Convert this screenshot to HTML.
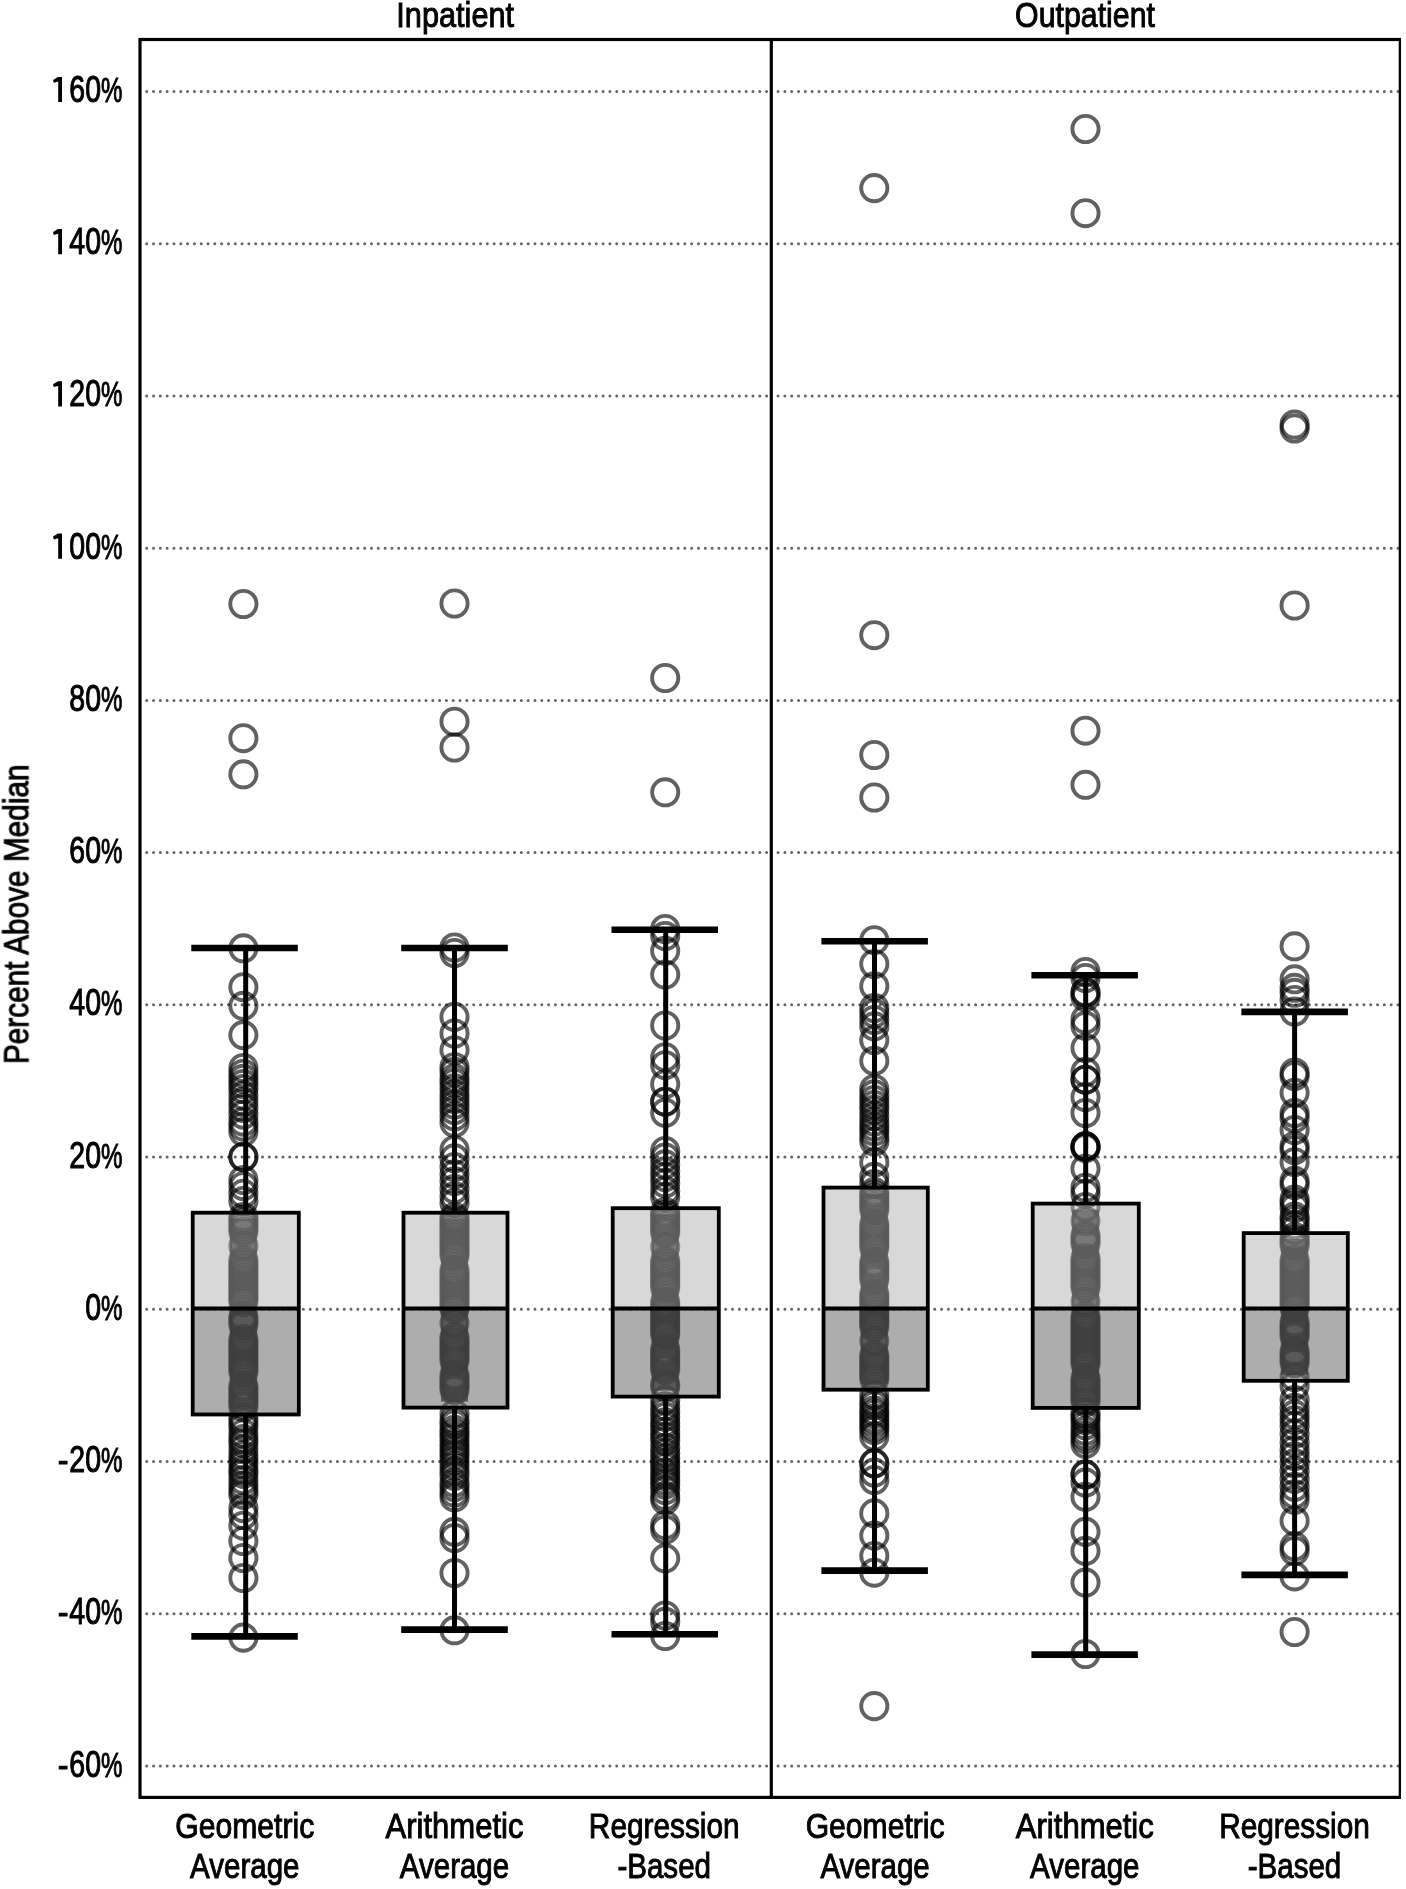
<!DOCTYPE html>
<html><head><meta charset="utf-8"><title>Boxplot</title>
<style>html,body{margin:0;padding:0;background:#fff;} svg{display:block;}</style></head>
<body><svg width="1406" height="1889" viewBox="0 0 1406 1889">
<defs><filter id="b" x="0" y="0" width="1" height="1"><feGaussianBlur stdDeviation="0.6"/></filter></defs>
<rect width="1406" height="1889" fill="#fff"/>
<g filter="url(#b)">
<g stroke="#656565" stroke-width="3.0" stroke-linecap="round" stroke-dasharray="0 6.812" fill="none"><line x1="146.7" y1="91.5" x2="766.6" y2="91.5" /><line x1="778.07" y1="91.5" x2="1398.1" y2="91.5" /><line x1="146.7" y1="243.7" x2="766.6" y2="243.7" /><line x1="778.07" y1="243.7" x2="1398.1" y2="243.7" /><line x1="146.7" y1="395.9" x2="766.6" y2="395.9" /><line x1="778.07" y1="395.9" x2="1398.1" y2="395.9" /><line x1="146.7" y1="548.2" x2="766.6" y2="548.2" /><line x1="778.07" y1="548.2" x2="1398.1" y2="548.2" /><line x1="146.7" y1="700.4" x2="766.6" y2="700.4" /><line x1="778.07" y1="700.4" x2="1398.1" y2="700.4" /><line x1="146.7" y1="852.6" x2="766.6" y2="852.6" /><line x1="778.07" y1="852.6" x2="1398.1" y2="852.6" /><line x1="146.7" y1="1004.8" x2="766.6" y2="1004.8" /><line x1="778.07" y1="1004.8" x2="1398.1" y2="1004.8" /><line x1="146.7" y1="1157.1" x2="766.6" y2="1157.1" /><line x1="778.07" y1="1157.1" x2="1398.1" y2="1157.1" /><line x1="146.7" y1="1309.3" x2="766.6" y2="1309.3" /><line x1="778.07" y1="1309.3" x2="1398.1" y2="1309.3" /><line x1="146.7" y1="1461.5" x2="766.6" y2="1461.5" /><line x1="778.07" y1="1461.5" x2="1398.1" y2="1461.5" /><line x1="146.7" y1="1613.8" x2="766.6" y2="1613.8" /><line x1="778.07" y1="1613.8" x2="1398.1" y2="1613.8" /><line x1="146.7" y1="1766.0" x2="766.6" y2="1766.0" /><line x1="778.07" y1="1766.0" x2="1398.1" y2="1766.0" /></g>
<rect x="229.9" y="1218.7" width="27" height="189.8" fill="#000" fill-opacity="0.75"/><g fill="none" stroke="#000" stroke-opacity="0.62" stroke-width="3.9"><circle cx="243.4" cy="604.0" r="13.1"/><circle cx="243.4" cy="738.2" r="13.1"/><circle cx="243.4" cy="774.3" r="13.1"/><circle cx="243.4" cy="948.3" r="13.1"/><circle cx="243.4" cy="987.2" r="13.1"/><circle cx="243.4" cy="1005.8" r="13.1"/><circle cx="243.4" cy="1035.1" r="13.1"/><circle cx="243.4" cy="1525.7" r="13.1"/><circle cx="243.4" cy="1541.0" r="13.1"/><circle cx="243.4" cy="1558.0" r="13.1"/><circle cx="243.4" cy="1578.0" r="13.1"/><circle cx="243.4" cy="1637.6" r="13.1"/><circle cx="243.4" cy="1157.0" r="13.1"/><circle cx="243.4" cy="1157.0" r="13.1"/><circle cx="243.4" cy="1068.0" r="13.1"/><circle cx="243.4" cy="1073.7" r="13.1"/><circle cx="243.4" cy="1078.8" r="13.1"/><circle cx="243.4" cy="1084.0" r="13.1"/><circle cx="243.4" cy="1089.0" r="13.1"/><circle cx="243.4" cy="1095.5" r="13.1"/><circle cx="243.4" cy="1101.9" r="13.1"/><circle cx="243.4" cy="1107.9" r="13.1"/><circle cx="243.4" cy="1114.7" r="13.1"/><circle cx="243.4" cy="1121.7" r="13.1"/><circle cx="243.4" cy="1126.6" r="13.1"/><circle cx="243.4" cy="1131.8" r="13.1"/><circle cx="243.4" cy="1180.0" r="13.1"/><circle cx="243.4" cy="1186.2" r="13.1"/><circle cx="243.4" cy="1193.7" r="13.1"/><circle cx="243.4" cy="1201.0" r="13.1"/><circle cx="243.4" cy="1418.0" r="13.1"/><circle cx="243.4" cy="1422.5" r="13.1"/><circle cx="243.4" cy="1427.1" r="13.1"/><circle cx="243.4" cy="1433.5" r="13.1"/><circle cx="243.4" cy="1439.0" r="13.1"/><circle cx="243.4" cy="1443.1" r="13.1"/><circle cx="243.4" cy="1449.2" r="13.1"/><circle cx="243.4" cy="1455.2" r="13.1"/><circle cx="243.4" cy="1460.1" r="13.1"/><circle cx="243.4" cy="1464.6" r="13.1"/><circle cx="243.4" cy="1470.1" r="13.1"/><circle cx="243.4" cy="1473.9" r="13.1"/><circle cx="243.4" cy="1480.0" r="13.1"/><circle cx="243.4" cy="1485.5" r="13.1"/><circle cx="243.4" cy="1490.4" r="13.1"/><circle cx="243.4" cy="1494.9" r="13.1"/><circle cx="243.4" cy="1508.0" r="13.1"/><circle cx="243.4" cy="1515.0" r="13.1"/><circle cx="243.4" cy="1217.0" r="13.1"/><circle cx="243.4" cy="1220.0" r="13.1"/><circle cx="243.4" cy="1223.0" r="13.1"/><circle cx="243.4" cy="1226.0" r="13.1"/><circle cx="243.4" cy="1229.0" r="13.1"/><circle cx="243.4" cy="1232.0" r="13.1"/><circle cx="243.4" cy="1246.0" r="13.1"/><circle cx="243.4" cy="1260.0" r="13.1"/><circle cx="243.4" cy="1263.0" r="13.1"/><circle cx="243.4" cy="1266.0" r="13.1"/><circle cx="243.4" cy="1269.0" r="13.1"/><circle cx="243.4" cy="1272.0" r="13.1"/><circle cx="243.4" cy="1275.0" r="13.1"/><circle cx="243.4" cy="1278.0" r="13.1"/><circle cx="243.4" cy="1281.0" r="13.1"/><circle cx="243.4" cy="1284.0" r="13.1"/><circle cx="243.4" cy="1287.0" r="13.1"/><circle cx="243.4" cy="1290.0" r="13.1"/><circle cx="243.4" cy="1293.0" r="13.1"/><circle cx="243.4" cy="1296.0" r="13.1"/><circle cx="243.4" cy="1299.0" r="13.1"/><circle cx="243.4" cy="1302.0" r="13.1"/><circle cx="243.4" cy="1316.0" r="13.1"/><circle cx="243.4" cy="1319.0" r="13.1"/><circle cx="243.4" cy="1322.0" r="13.1"/><circle cx="243.4" cy="1325.0" r="13.1"/><circle cx="243.4" cy="1339.0" r="13.1"/><circle cx="243.4" cy="1342.0" r="13.1"/><circle cx="243.4" cy="1345.0" r="13.1"/><circle cx="243.4" cy="1348.0" r="13.1"/><circle cx="243.4" cy="1351.0" r="13.1"/><circle cx="243.4" cy="1354.0" r="13.1"/><circle cx="243.4" cy="1357.0" r="13.1"/><circle cx="243.4" cy="1360.0" r="13.1"/><circle cx="243.4" cy="1363.0" r="13.1"/><circle cx="243.4" cy="1366.0" r="13.1"/><circle cx="243.4" cy="1369.0" r="13.1"/><circle cx="243.4" cy="1372.0" r="13.1"/><circle cx="243.4" cy="1386.0" r="13.1"/><circle cx="243.4" cy="1389.0" r="13.1"/><circle cx="243.4" cy="1392.0" r="13.1"/><circle cx="243.4" cy="1395.0" r="13.1"/><circle cx="243.4" cy="1398.0" r="13.1"/><circle cx="243.4" cy="1401.0" r="13.1"/><circle cx="243.4" cy="1404.0" r="13.1"/><circle cx="243.4" cy="1407.0" r="13.1"/></g><rect x="192.7" y="1212.7" width="106.1" height="95.8" fill="#b1b1b1" fill-opacity="0.5"/><rect x="192.7" y="1308.5" width="106.1" height="106.0" fill="#6c6c6c" fill-opacity="0.56"/><g stroke="#000" stroke-width="5"><line x1="245.7" y1="948.0" x2="245.7" y2="1212.7"/><line x1="245.7" y1="1414.5" x2="245.7" y2="1636.4"/></g><g stroke="#000" stroke-width="6.6"><line x1="191.3" y1="948.0" x2="297.8" y2="948.0"/><line x1="191.3" y1="1636.4" x2="297.8" y2="1636.4"/></g><rect x="192.7" y="1212.7" width="106.1" height="201.8" fill="none" stroke="#000" stroke-width="3.8"/><line x1="192.7" y1="1308.5" x2="298.8" y2="1308.5" stroke="#000" stroke-width="4.2"/>
<rect x="441.0" y="1218.7" width="27" height="182.9" fill="#000" fill-opacity="0.75"/><g fill="none" stroke="#000" stroke-opacity="0.62" stroke-width="3.9"><circle cx="454.5" cy="603.5" r="13.1"/><circle cx="454.5" cy="721.7" r="13.1"/><circle cx="454.5" cy="747.5" r="13.1"/><circle cx="454.5" cy="947.5" r="13.1"/><circle cx="454.5" cy="953.0" r="13.1"/><circle cx="454.5" cy="1016.9" r="13.1"/><circle cx="454.5" cy="1033.5" r="13.1"/><circle cx="454.5" cy="1050.2" r="13.1"/><circle cx="454.5" cy="1531.8" r="13.1"/><circle cx="454.5" cy="1538.0" r="13.1"/><circle cx="454.5" cy="1573.0" r="13.1"/><circle cx="454.5" cy="1630.3" r="13.1"/><circle cx="454.5" cy="1067.0" r="13.1"/><circle cx="454.5" cy="1071.9" r="13.1"/><circle cx="454.5" cy="1078.3" r="13.1"/><circle cx="454.5" cy="1082.9" r="13.1"/><circle cx="454.5" cy="1088.3" r="13.1"/><circle cx="454.5" cy="1094.2" r="13.1"/><circle cx="454.5" cy="1099.2" r="13.1"/><circle cx="454.5" cy="1104.7" r="13.1"/><circle cx="454.5" cy="1110.1" r="13.1"/><circle cx="454.5" cy="1116.4" r="13.1"/><circle cx="454.5" cy="1122.8" r="13.1"/><circle cx="454.5" cy="1150.0" r="13.1"/><circle cx="454.5" cy="1158.4" r="13.1"/><circle cx="454.5" cy="1167.0" r="13.1"/><circle cx="454.5" cy="1174.3" r="13.1"/><circle cx="454.5" cy="1181.2" r="13.1"/><circle cx="454.5" cy="1189.0" r="13.1"/><circle cx="454.5" cy="1196.4" r="13.1"/><circle cx="454.5" cy="1203.1" r="13.1"/><circle cx="454.5" cy="1414.0" r="13.1"/><circle cx="454.5" cy="1420.4" r="13.1"/><circle cx="454.5" cy="1424.4" r="13.1"/><circle cx="454.5" cy="1429.9" r="13.1"/><circle cx="454.5" cy="1433.9" r="13.1"/><circle cx="454.5" cy="1437.9" r="13.1"/><circle cx="454.5" cy="1442.9" r="13.1"/><circle cx="454.5" cy="1447.2" r="13.1"/><circle cx="454.5" cy="1451.4" r="13.1"/><circle cx="454.5" cy="1455.3" r="13.1"/><circle cx="454.5" cy="1460.4" r="13.1"/><circle cx="454.5" cy="1465.5" r="13.1"/><circle cx="454.5" cy="1471.1" r="13.1"/><circle cx="454.5" cy="1475.8" r="13.1"/><circle cx="454.5" cy="1482.7" r="13.1"/><circle cx="454.5" cy="1487.2" r="13.1"/><circle cx="454.5" cy="1492.7" r="13.1"/><circle cx="454.5" cy="1497.4" r="13.1"/><circle cx="454.5" cy="1217.0" r="13.1"/><circle cx="454.5" cy="1220.0" r="13.1"/><circle cx="454.5" cy="1223.0" r="13.1"/><circle cx="454.5" cy="1226.0" r="13.1"/><circle cx="454.5" cy="1229.0" r="13.1"/><circle cx="454.5" cy="1232.0" r="13.1"/><circle cx="454.5" cy="1235.0" r="13.1"/><circle cx="454.5" cy="1238.0" r="13.1"/><circle cx="454.5" cy="1241.0" r="13.1"/><circle cx="454.5" cy="1244.0" r="13.1"/><circle cx="454.5" cy="1247.0" r="13.1"/><circle cx="454.5" cy="1250.0" r="13.1"/><circle cx="454.5" cy="1253.0" r="13.1"/><circle cx="454.5" cy="1256.0" r="13.1"/><circle cx="454.5" cy="1270.0" r="13.1"/><circle cx="454.5" cy="1273.0" r="13.1"/><circle cx="454.5" cy="1276.0" r="13.1"/><circle cx="454.5" cy="1279.0" r="13.1"/><circle cx="454.5" cy="1282.0" r="13.1"/><circle cx="454.5" cy="1285.0" r="13.1"/><circle cx="454.5" cy="1288.0" r="13.1"/><circle cx="454.5" cy="1291.0" r="13.1"/><circle cx="454.5" cy="1294.0" r="13.1"/><circle cx="454.5" cy="1297.0" r="13.1"/><circle cx="454.5" cy="1300.0" r="13.1"/><circle cx="454.5" cy="1303.0" r="13.1"/><circle cx="454.5" cy="1306.0" r="13.1"/><circle cx="454.5" cy="1309.0" r="13.1"/><circle cx="454.5" cy="1323.0" r="13.1"/><circle cx="454.5" cy="1337.0" r="13.1"/><circle cx="454.5" cy="1340.0" r="13.1"/><circle cx="454.5" cy="1343.0" r="13.1"/><circle cx="454.5" cy="1346.0" r="13.1"/><circle cx="454.5" cy="1349.0" r="13.1"/><circle cx="454.5" cy="1352.0" r="13.1"/><circle cx="454.5" cy="1355.0" r="13.1"/><circle cx="454.5" cy="1358.0" r="13.1"/><circle cx="454.5" cy="1361.0" r="13.1"/><circle cx="454.5" cy="1375.0" r="13.1"/><circle cx="454.5" cy="1378.0" r="13.1"/><circle cx="454.5" cy="1381.0" r="13.1"/><circle cx="454.5" cy="1384.0" r="13.1"/><circle cx="454.5" cy="1387.0" r="13.1"/><circle cx="454.5" cy="1390.0" r="13.1"/></g><rect x="403.5" y="1212.7" width="104.0" height="95.8" fill="#b1b1b1" fill-opacity="0.5"/><rect x="403.5" y="1308.5" width="104.0" height="99.1" fill="#6c6c6c" fill-opacity="0.56"/><g stroke="#000" stroke-width="5"><line x1="454.5" y1="948.0" x2="454.5" y2="1212.7"/><line x1="454.5" y1="1407.6" x2="454.5" y2="1629.6"/></g><g stroke="#000" stroke-width="6.6"><line x1="401.2" y1="948.0" x2="507.8" y2="948.0"/><line x1="401.2" y1="1629.6" x2="507.8" y2="1629.6"/></g><rect x="403.5" y="1212.7" width="104.0" height="194.9" fill="none" stroke="#000" stroke-width="3.8"/><line x1="403.5" y1="1308.5" x2="507.5" y2="1308.5" stroke="#000" stroke-width="4.2"/>
<rect x="651.7" y="1214.2" width="27" height="176.4" fill="#000" fill-opacity="0.75"/><g fill="none" stroke="#000" stroke-opacity="0.62" stroke-width="3.9"><circle cx="665.2" cy="678.0" r="13.1"/><circle cx="665.2" cy="792.3" r="13.1"/><circle cx="665.2" cy="929.0" r="13.1"/><circle cx="665.2" cy="936.0" r="13.1"/><circle cx="665.2" cy="950.8" r="13.1"/><circle cx="665.2" cy="974.6" r="13.1"/><circle cx="665.2" cy="1025.5" r="13.1"/><circle cx="665.2" cy="1057.2" r="13.1"/><circle cx="665.2" cy="1065.2" r="13.1"/><circle cx="665.2" cy="1084.2" r="13.1"/><circle cx="665.2" cy="1101.7" r="13.1"/><circle cx="665.2" cy="1101.7" r="13.1"/><circle cx="665.2" cy="1112.8" r="13.1"/><circle cx="665.2" cy="1525.0" r="13.1"/><circle cx="665.2" cy="1529.7" r="13.1"/><circle cx="665.2" cy="1558.3" r="13.1"/><circle cx="665.2" cy="1615.5" r="13.1"/><circle cx="665.2" cy="1621.9" r="13.1"/><circle cx="665.2" cy="1636.0" r="13.1"/><circle cx="665.2" cy="1151.0" r="13.1"/><circle cx="665.2" cy="1157.5" r="13.1"/><circle cx="665.2" cy="1164.4" r="13.1"/><circle cx="665.2" cy="1171.3" r="13.1"/><circle cx="665.2" cy="1177.1" r="13.1"/><circle cx="665.2" cy="1183.3" r="13.1"/><circle cx="665.2" cy="1190.8" r="13.1"/><circle cx="665.2" cy="1197.1" r="13.1"/><circle cx="665.2" cy="1400.0" r="13.1"/><circle cx="665.2" cy="1406.3" r="13.1"/><circle cx="665.2" cy="1411.8" r="13.1"/><circle cx="665.2" cy="1416.8" r="13.1"/><circle cx="665.2" cy="1422.4" r="13.1"/><circle cx="665.2" cy="1426.5" r="13.1"/><circle cx="665.2" cy="1431.9" r="13.1"/><circle cx="665.2" cy="1436.7" r="13.1"/><circle cx="665.2" cy="1441.0" r="13.1"/><circle cx="665.2" cy="1447.7" r="13.1"/><circle cx="665.2" cy="1453.0" r="13.1"/><circle cx="665.2" cy="1458.1" r="13.1"/><circle cx="665.2" cy="1462.9" r="13.1"/><circle cx="665.2" cy="1467.1" r="13.1"/><circle cx="665.2" cy="1472.2" r="13.1"/><circle cx="665.2" cy="1476.2" r="13.1"/><circle cx="665.2" cy="1480.6" r="13.1"/><circle cx="665.2" cy="1484.7" r="13.1"/><circle cx="665.2" cy="1490.0" r="13.1"/><circle cx="665.2" cy="1496.2" r="13.1"/><circle cx="665.2" cy="1500.0" r="13.1"/><circle cx="665.2" cy="1212.0" r="13.1"/><circle cx="665.2" cy="1215.0" r="13.1"/><circle cx="665.2" cy="1218.0" r="13.1"/><circle cx="665.2" cy="1221.0" r="13.1"/><circle cx="665.2" cy="1224.0" r="13.1"/><circle cx="665.2" cy="1227.0" r="13.1"/><circle cx="665.2" cy="1230.0" r="13.1"/><circle cx="665.2" cy="1233.0" r="13.1"/><circle cx="665.2" cy="1247.0" r="13.1"/><circle cx="665.2" cy="1261.0" r="13.1"/><circle cx="665.2" cy="1264.0" r="13.1"/><circle cx="665.2" cy="1267.0" r="13.1"/><circle cx="665.2" cy="1270.0" r="13.1"/><circle cx="665.2" cy="1273.0" r="13.1"/><circle cx="665.2" cy="1276.0" r="13.1"/><circle cx="665.2" cy="1279.0" r="13.1"/><circle cx="665.2" cy="1282.0" r="13.1"/><circle cx="665.2" cy="1285.0" r="13.1"/><circle cx="665.2" cy="1288.0" r="13.1"/><circle cx="665.2" cy="1302.0" r="13.1"/><circle cx="665.2" cy="1305.0" r="13.1"/><circle cx="665.2" cy="1308.0" r="13.1"/><circle cx="665.2" cy="1311.0" r="13.1"/><circle cx="665.2" cy="1314.0" r="13.1"/><circle cx="665.2" cy="1317.0" r="13.1"/><circle cx="665.2" cy="1320.0" r="13.1"/><circle cx="665.2" cy="1323.0" r="13.1"/><circle cx="665.2" cy="1326.0" r="13.1"/><circle cx="665.2" cy="1329.0" r="13.1"/><circle cx="665.2" cy="1332.0" r="13.1"/><circle cx="665.2" cy="1335.0" r="13.1"/><circle cx="665.2" cy="1349.0" r="13.1"/><circle cx="665.2" cy="1352.0" r="13.1"/><circle cx="665.2" cy="1355.0" r="13.1"/><circle cx="665.2" cy="1358.0" r="13.1"/><circle cx="665.2" cy="1361.0" r="13.1"/><circle cx="665.2" cy="1364.0" r="13.1"/><circle cx="665.2" cy="1367.0" r="13.1"/><circle cx="665.2" cy="1370.0" r="13.1"/><circle cx="665.2" cy="1384.0" r="13.1"/><circle cx="665.2" cy="1387.0" r="13.1"/></g><rect x="612.7" y="1208.2" width="106.1" height="100.3" fill="#b1b1b1" fill-opacity="0.5"/><rect x="612.7" y="1308.5" width="106.1" height="88.1" fill="#6c6c6c" fill-opacity="0.56"/><g stroke="#000" stroke-width="5"><line x1="665.7" y1="929.7" x2="665.7" y2="1208.2"/><line x1="665.7" y1="1396.6" x2="665.7" y2="1634.3"/></g><g stroke="#000" stroke-width="6.6"><line x1="611.5" y1="929.7" x2="718.0" y2="929.7"/><line x1="611.5" y1="1634.3" x2="718.0" y2="1634.3"/></g><rect x="612.7" y="1208.2" width="106.1" height="188.4" fill="none" stroke="#000" stroke-width="3.8"/><line x1="612.7" y1="1308.5" x2="718.8" y2="1308.5" stroke="#000" stroke-width="4.2"/>
<rect x="860.8" y="1193.6" width="27" height="190.1" fill="#000" fill-opacity="0.75"/><g fill="none" stroke="#000" stroke-opacity="0.62" stroke-width="3.9"><circle cx="874.3" cy="188.1" r="13.1"/><circle cx="874.3" cy="635.2" r="13.1"/><circle cx="874.3" cy="755.0" r="13.1"/><circle cx="874.3" cy="797.5" r="13.1"/><circle cx="874.3" cy="940.2" r="13.1"/><circle cx="874.3" cy="964.0" r="13.1"/><circle cx="874.3" cy="986.2" r="13.1"/><circle cx="874.3" cy="1040.2" r="13.1"/><circle cx="874.3" cy="1060.9" r="13.1"/><circle cx="874.3" cy="1162.5" r="13.1"/><circle cx="874.3" cy="1176.8" r="13.1"/><circle cx="874.3" cy="1184.0" r="13.1"/><circle cx="874.3" cy="1472.6" r="13.1"/><circle cx="874.3" cy="1480.0" r="13.1"/><circle cx="874.3" cy="1513.4" r="13.1"/><circle cx="874.3" cy="1535.6" r="13.1"/><circle cx="874.3" cy="1556.0" r="13.1"/><circle cx="874.3" cy="1572.7" r="13.1"/><circle cx="874.3" cy="1706.1" r="13.1"/><circle cx="874.3" cy="1463.4" r="13.1"/><circle cx="874.3" cy="1463.4" r="13.1"/><circle cx="874.3" cy="1008.0" r="13.1"/><circle cx="874.3" cy="1013.4" r="13.1"/><circle cx="874.3" cy="1020.0" r="13.1"/><circle cx="874.3" cy="1026.4" r="13.1"/><circle cx="874.3" cy="1089.0" r="13.1"/><circle cx="874.3" cy="1094.4" r="13.1"/><circle cx="874.3" cy="1100.0" r="13.1"/><circle cx="874.3" cy="1105.0" r="13.1"/><circle cx="874.3" cy="1109.8" r="13.1"/><circle cx="874.3" cy="1115.8" r="13.1"/><circle cx="874.3" cy="1121.6" r="13.1"/><circle cx="874.3" cy="1126.7" r="13.1"/><circle cx="874.3" cy="1131.3" r="13.1"/><circle cx="874.3" cy="1136.5" r="13.1"/><circle cx="874.3" cy="1141.6" r="13.1"/><circle cx="874.3" cy="1395.0" r="13.1"/><circle cx="874.3" cy="1401.3" r="13.1"/><circle cx="874.3" cy="1405.3" r="13.1"/><circle cx="874.3" cy="1410.5" r="13.1"/><circle cx="874.3" cy="1414.0" r="13.1"/><circle cx="874.3" cy="1418.6" r="13.1"/><circle cx="874.3" cy="1422.3" r="13.1"/><circle cx="874.3" cy="1426.6" r="13.1"/><circle cx="874.3" cy="1430.2" r="13.1"/><circle cx="874.3" cy="1436.5" r="13.1"/><circle cx="874.3" cy="1192.0" r="13.1"/><circle cx="874.3" cy="1195.0" r="13.1"/><circle cx="874.3" cy="1198.0" r="13.1"/><circle cx="874.3" cy="1201.0" r="13.1"/><circle cx="874.3" cy="1204.0" r="13.1"/><circle cx="874.3" cy="1207.0" r="13.1"/><circle cx="874.3" cy="1210.0" r="13.1"/><circle cx="874.3" cy="1224.0" r="13.1"/><circle cx="874.3" cy="1227.0" r="13.1"/><circle cx="874.3" cy="1230.0" r="13.1"/><circle cx="874.3" cy="1233.0" r="13.1"/><circle cx="874.3" cy="1236.0" r="13.1"/><circle cx="874.3" cy="1239.0" r="13.1"/><circle cx="874.3" cy="1242.0" r="13.1"/><circle cx="874.3" cy="1245.0" r="13.1"/><circle cx="874.3" cy="1248.0" r="13.1"/><circle cx="874.3" cy="1262.0" r="13.1"/><circle cx="874.3" cy="1265.0" r="13.1"/><circle cx="874.3" cy="1268.0" r="13.1"/><circle cx="874.3" cy="1271.0" r="13.1"/><circle cx="874.3" cy="1274.0" r="13.1"/><circle cx="874.3" cy="1277.0" r="13.1"/><circle cx="874.3" cy="1280.0" r="13.1"/><circle cx="874.3" cy="1294.0" r="13.1"/><circle cx="874.3" cy="1297.0" r="13.1"/><circle cx="874.3" cy="1300.0" r="13.1"/><circle cx="874.3" cy="1303.0" r="13.1"/><circle cx="874.3" cy="1306.0" r="13.1"/><circle cx="874.3" cy="1309.0" r="13.1"/><circle cx="874.3" cy="1312.0" r="13.1"/><circle cx="874.3" cy="1315.0" r="13.1"/><circle cx="874.3" cy="1318.0" r="13.1"/><circle cx="874.3" cy="1321.0" r="13.1"/><circle cx="874.3" cy="1324.0" r="13.1"/><circle cx="874.3" cy="1327.0" r="13.1"/><circle cx="874.3" cy="1341.0" r="13.1"/><circle cx="874.3" cy="1355.0" r="13.1"/><circle cx="874.3" cy="1358.0" r="13.1"/><circle cx="874.3" cy="1361.0" r="13.1"/><circle cx="874.3" cy="1364.0" r="13.1"/><circle cx="874.3" cy="1367.0" r="13.1"/><circle cx="874.3" cy="1370.0" r="13.1"/><circle cx="874.3" cy="1373.0" r="13.1"/><circle cx="874.3" cy="1376.0" r="13.1"/><circle cx="874.3" cy="1379.0" r="13.1"/></g><rect x="823.5" y="1187.6" width="104.3" height="120.9" fill="#b1b1b1" fill-opacity="0.5"/><rect x="823.5" y="1308.5" width="104.3" height="81.2" fill="#6c6c6c" fill-opacity="0.56"/><g stroke="#000" stroke-width="5"><line x1="874.5" y1="941.3" x2="874.5" y2="1187.6"/><line x1="874.5" y1="1389.7" x2="874.5" y2="1570.6"/></g><g stroke="#000" stroke-width="6.6"><line x1="821.4" y1="941.3" x2="927.9" y2="941.3"/><line x1="821.4" y1="1570.6" x2="927.9" y2="1570.6"/></g><rect x="823.5" y="1187.6" width="104.3" height="202.1" fill="none" stroke="#000" stroke-width="3.8"/><line x1="823.5" y1="1308.5" x2="927.8" y2="1308.5" stroke="#000" stroke-width="4.2"/>
<rect x="1072.0" y="1209.6" width="27" height="192.3" fill="#000" fill-opacity="0.75"/><g fill="none" stroke="#000" stroke-opacity="0.62" stroke-width="3.9"><circle cx="1085.5" cy="129.0" r="13.1"/><circle cx="1085.5" cy="213.2" r="13.1"/><circle cx="1085.5" cy="730.7" r="13.1"/><circle cx="1085.5" cy="784.8" r="13.1"/><circle cx="1085.5" cy="972.0" r="13.1"/><circle cx="1085.5" cy="978.0" r="13.1"/><circle cx="1085.5" cy="997.0" r="13.1"/><circle cx="1085.5" cy="1019.4" r="13.1"/><circle cx="1085.5" cy="1025.8" r="13.1"/><circle cx="1085.5" cy="1048.0" r="13.1"/><circle cx="1085.5" cy="1071.8" r="13.1"/><circle cx="1085.5" cy="1097.2" r="13.1"/><circle cx="1085.5" cy="1113.0" r="13.1"/><circle cx="1085.5" cy="1148.0" r="13.1"/><circle cx="1085.5" cy="1168.7" r="13.1"/><circle cx="1085.5" cy="1187.7" r="13.1"/><circle cx="1085.5" cy="1194.0" r="13.1"/><circle cx="1085.5" cy="1482.6" r="13.1"/><circle cx="1085.5" cy="1496.9" r="13.1"/><circle cx="1085.5" cy="1531.8" r="13.1"/><circle cx="1085.5" cy="1550.9" r="13.1"/><circle cx="1085.5" cy="1582.6" r="13.1"/><circle cx="1085.5" cy="1654.0" r="13.1"/><circle cx="1085.5" cy="992.4" r="13.1"/><circle cx="1085.5" cy="992.4" r="13.1"/><circle cx="1085.5" cy="1079.7" r="13.1"/><circle cx="1085.5" cy="1079.7" r="13.1"/><circle cx="1085.5" cy="1474.6" r="13.1"/><circle cx="1085.5" cy="1474.6" r="13.1"/><circle cx="1085.5" cy="1146.4" r="13.1"/><circle cx="1085.5" cy="1146.4" r="13.1"/><circle cx="1085.5" cy="1146.4" r="13.1"/><circle cx="1085.5" cy="1413.0" r="13.1"/><circle cx="1085.5" cy="1416.6" r="13.1"/><circle cx="1085.5" cy="1420.1" r="13.1"/><circle cx="1085.5" cy="1425.4" r="13.1"/><circle cx="1085.5" cy="1430.9" r="13.1"/><circle cx="1085.5" cy="1435.3" r="13.1"/><circle cx="1085.5" cy="1439.2" r="13.1"/><circle cx="1085.5" cy="1443.9" r="13.1"/><circle cx="1085.5" cy="1207.0" r="13.1"/><circle cx="1085.5" cy="1221.0" r="13.1"/><circle cx="1085.5" cy="1235.0" r="13.1"/><circle cx="1085.5" cy="1238.0" r="13.1"/><circle cx="1085.5" cy="1241.0" r="13.1"/><circle cx="1085.5" cy="1244.0" r="13.1"/><circle cx="1085.5" cy="1258.0" r="13.1"/><circle cx="1085.5" cy="1261.0" r="13.1"/><circle cx="1085.5" cy="1264.0" r="13.1"/><circle cx="1085.5" cy="1267.0" r="13.1"/><circle cx="1085.5" cy="1270.0" r="13.1"/><circle cx="1085.5" cy="1273.0" r="13.1"/><circle cx="1085.5" cy="1276.0" r="13.1"/><circle cx="1085.5" cy="1279.0" r="13.1"/><circle cx="1085.5" cy="1282.0" r="13.1"/><circle cx="1085.5" cy="1285.0" r="13.1"/><circle cx="1085.5" cy="1288.0" r="13.1"/><circle cx="1085.5" cy="1302.0" r="13.1"/><circle cx="1085.5" cy="1316.0" r="13.1"/><circle cx="1085.5" cy="1319.0" r="13.1"/><circle cx="1085.5" cy="1322.0" r="13.1"/><circle cx="1085.5" cy="1325.0" r="13.1"/><circle cx="1085.5" cy="1328.0" r="13.1"/><circle cx="1085.5" cy="1331.0" r="13.1"/><circle cx="1085.5" cy="1334.0" r="13.1"/><circle cx="1085.5" cy="1337.0" r="13.1"/><circle cx="1085.5" cy="1340.0" r="13.1"/><circle cx="1085.5" cy="1343.0" r="13.1"/><circle cx="1085.5" cy="1346.0" r="13.1"/><circle cx="1085.5" cy="1349.0" r="13.1"/><circle cx="1085.5" cy="1352.0" r="13.1"/><circle cx="1085.5" cy="1355.0" r="13.1"/><circle cx="1085.5" cy="1358.0" r="13.1"/><circle cx="1085.5" cy="1361.0" r="13.1"/><circle cx="1085.5" cy="1364.0" r="13.1"/><circle cx="1085.5" cy="1378.0" r="13.1"/><circle cx="1085.5" cy="1381.0" r="13.1"/><circle cx="1085.5" cy="1384.0" r="13.1"/><circle cx="1085.5" cy="1387.0" r="13.1"/><circle cx="1085.5" cy="1390.0" r="13.1"/><circle cx="1085.5" cy="1393.0" r="13.1"/><circle cx="1085.5" cy="1396.0" r="13.1"/><circle cx="1085.5" cy="1399.0" r="13.1"/><circle cx="1085.5" cy="1402.0" r="13.1"/></g><rect x="1032.7" y="1203.6" width="106.1" height="104.9" fill="#b1b1b1" fill-opacity="0.5"/><rect x="1032.7" y="1308.5" width="106.1" height="99.4" fill="#6c6c6c" fill-opacity="0.56"/><g stroke="#000" stroke-width="5"><line x1="1085.7" y1="975.3" x2="1085.7" y2="1203.6"/><line x1="1085.7" y1="1407.9" x2="1085.7" y2="1654.6"/></g><g stroke="#000" stroke-width="6.6"><line x1="1031.4" y1="975.3" x2="1137.9" y2="975.3"/><line x1="1031.4" y1="1654.6" x2="1137.9" y2="1654.6"/></g><rect x="1032.7" y="1203.6" width="106.1" height="204.3" fill="none" stroke="#000" stroke-width="3.8"/><line x1="1032.7" y1="1308.5" x2="1138.8" y2="1308.5" stroke="#000" stroke-width="4.2"/>
<rect x="1281.1" y="1239.1" width="27" height="135.7" fill="#000" fill-opacity="0.75"/><g fill="none" stroke="#000" stroke-opacity="0.62" stroke-width="3.9"><circle cx="1294.6" cy="424.5" r="13.1"/><circle cx="1294.6" cy="428.5" r="13.1"/><circle cx="1294.6" cy="605.5" r="13.1"/><circle cx="1294.6" cy="946.3" r="13.1"/><circle cx="1294.6" cy="979.3" r="13.1"/><circle cx="1294.6" cy="987.8" r="13.1"/><circle cx="1294.6" cy="992.8" r="13.1"/><circle cx="1294.6" cy="1000.0" r="13.1"/><circle cx="1294.6" cy="1011.5" r="13.1"/><circle cx="1294.6" cy="1385.9" r="13.1"/><circle cx="1294.6" cy="1520.9" r="13.1"/><circle cx="1294.6" cy="1546.3" r="13.1"/><circle cx="1294.6" cy="1551.0" r="13.1"/><circle cx="1294.6" cy="1576.4" r="13.1"/><circle cx="1294.6" cy="1632.0" r="13.1"/><circle cx="1294.6" cy="1072.5" r="13.1"/><circle cx="1294.6" cy="1092.8" r="13.1"/><circle cx="1294.6" cy="1113.1" r="13.1"/><circle cx="1294.6" cy="1130.0" r="13.1"/><circle cx="1294.6" cy="1146.0" r="13.1"/><circle cx="1294.6" cy="1162.2" r="13.1"/><circle cx="1294.6" cy="1180.9" r="13.1"/><circle cx="1294.6" cy="1199.5" r="13.1"/><circle cx="1294.6" cy="1208.0" r="13.1"/><circle cx="1294.6" cy="1216.5" r="13.1"/><circle cx="1294.6" cy="1225.0" r="13.1"/><circle cx="1294.6" cy="1230.0" r="13.1"/><circle cx="1294.6" cy="1076.0" r="13.1"/><circle cx="1294.6" cy="1118.0" r="13.1"/><circle cx="1294.6" cy="1150.0" r="13.1"/><circle cx="1294.6" cy="1185.0" r="13.1"/><circle cx="1294.6" cy="1203.0" r="13.1"/><circle cx="1294.6" cy="1220.0" r="13.1"/><circle cx="1294.6" cy="1400.0" r="13.1"/><circle cx="1294.6" cy="1407.9" r="13.1"/><circle cx="1294.6" cy="1414.6" r="13.1"/><circle cx="1294.6" cy="1420.2" r="13.1"/><circle cx="1294.6" cy="1426.0" r="13.1"/><circle cx="1294.6" cy="1433.9" r="13.1"/><circle cx="1294.6" cy="1442.5" r="13.1"/><circle cx="1294.6" cy="1450.0" r="13.1"/><circle cx="1294.6" cy="1456.2" r="13.1"/><circle cx="1294.6" cy="1463.3" r="13.1"/><circle cx="1294.6" cy="1470.8" r="13.1"/><circle cx="1294.6" cy="1478.8" r="13.1"/><circle cx="1294.6" cy="1486.8" r="13.1"/><circle cx="1294.6" cy="1494.2" r="13.1"/><circle cx="1294.6" cy="1499.8" r="13.1"/><circle cx="1294.6" cy="1237.0" r="13.1"/><circle cx="1294.6" cy="1240.0" r="13.1"/><circle cx="1294.6" cy="1243.0" r="13.1"/><circle cx="1294.6" cy="1246.0" r="13.1"/><circle cx="1294.6" cy="1260.0" r="13.1"/><circle cx="1294.6" cy="1263.0" r="13.1"/><circle cx="1294.6" cy="1266.0" r="13.1"/><circle cx="1294.6" cy="1269.0" r="13.1"/><circle cx="1294.6" cy="1272.0" r="13.1"/><circle cx="1294.6" cy="1275.0" r="13.1"/><circle cx="1294.6" cy="1278.0" r="13.1"/><circle cx="1294.6" cy="1281.0" r="13.1"/><circle cx="1294.6" cy="1284.0" r="13.1"/><circle cx="1294.6" cy="1287.0" r="13.1"/><circle cx="1294.6" cy="1290.0" r="13.1"/><circle cx="1294.6" cy="1293.0" r="13.1"/><circle cx="1294.6" cy="1296.0" r="13.1"/><circle cx="1294.6" cy="1299.0" r="13.1"/><circle cx="1294.6" cy="1302.0" r="13.1"/><circle cx="1294.6" cy="1305.0" r="13.1"/><circle cx="1294.6" cy="1308.0" r="13.1"/><circle cx="1294.6" cy="1322.0" r="13.1"/><circle cx="1294.6" cy="1325.0" r="13.1"/><circle cx="1294.6" cy="1328.0" r="13.1"/><circle cx="1294.6" cy="1331.0" r="13.1"/><circle cx="1294.6" cy="1334.0" r="13.1"/><circle cx="1294.6" cy="1337.0" r="13.1"/><circle cx="1294.6" cy="1351.0" r="13.1"/><circle cx="1294.6" cy="1354.0" r="13.1"/><circle cx="1294.6" cy="1357.0" r="13.1"/><circle cx="1294.6" cy="1360.0" r="13.1"/><circle cx="1294.6" cy="1363.0" r="13.1"/><circle cx="1294.6" cy="1377.0" r="13.1"/></g><rect x="1243.7" y="1233.1" width="104.1" height="75.4" fill="#b1b1b1" fill-opacity="0.5"/><rect x="1243.7" y="1308.5" width="104.1" height="72.3" fill="#6c6c6c" fill-opacity="0.56"/><g stroke="#000" stroke-width="5"><line x1="1294.6" y1="1011.9" x2="1294.6" y2="1233.1"/><line x1="1294.6" y1="1380.8" x2="1294.6" y2="1574.9"/></g><g stroke="#000" stroke-width="6.6"><line x1="1241.4" y1="1011.9" x2="1347.9" y2="1011.9"/><line x1="1241.4" y1="1574.9" x2="1347.9" y2="1574.9"/></g><rect x="1243.7" y="1233.1" width="104.1" height="147.7" fill="none" stroke="#000" stroke-width="3.8"/><line x1="1243.7" y1="1308.5" x2="1347.8" y2="1308.5" stroke="#000" stroke-width="4.2"/>
<rect x="140" y="39.5" width="1260.3" height="1757.9" fill="none" stroke="#000" stroke-width="3.2"/>
<line x1="771.3" y1="39.5" x2="771.3" y2="1797.4" stroke="#000" stroke-width="3.2"/>
<g font-family="Liberation Sans" font-size="36" fill="#000"><text stroke="#000" stroke-width="1.0" font-size="37" transform="translate(101,102.0) scale(0.769,1)" text-anchor="end">60</text><path stroke="none" d="M58.0 76.9 L62.0 76.9 L62.0 102.0 L58.2 102.0 L58.2 81.5 L53.8 82.7 L53.0 79.9 Z"/><text stroke="#000" stroke-width="1.0" transform="translate(122.5,102.0) scale(0.67,1)" text-anchor="end">%</text><text stroke="#000" stroke-width="1.0" font-size="37" transform="translate(101,254.2) scale(0.769,1)" text-anchor="end">40</text><path stroke="none" d="M58.0 229.1 L62.0 229.1 L62.0 254.2 L58.2 254.2 L58.2 233.7 L53.8 234.9 L53.0 232.1 Z"/><text stroke="#000" stroke-width="1.0" transform="translate(122.5,254.2) scale(0.67,1)" text-anchor="end">%</text><text stroke="#000" stroke-width="1.0" font-size="37" transform="translate(101,406.4) scale(0.769,1)" text-anchor="end">20</text><path stroke="none" d="M58.0 381.3 L62.0 381.3 L62.0 406.4 L58.2 406.4 L58.2 385.9 L53.8 387.1 L53.0 384.3 Z"/><text stroke="#000" stroke-width="1.0" transform="translate(122.5,406.4) scale(0.67,1)" text-anchor="end">%</text><text stroke="#000" stroke-width="1.0" font-size="37" transform="translate(101,558.7) scale(0.769,1)" text-anchor="end">00</text><path stroke="none" d="M58.0 533.6 L62.0 533.6 L62.0 558.7 L58.2 558.7 L58.2 538.2 L53.8 539.4 L53.0 536.6 Z"/><text stroke="#000" stroke-width="1.0" transform="translate(122.5,558.7) scale(0.67,1)" text-anchor="end">%</text><text stroke="#000" stroke-width="1.0" font-size="37" transform="translate(101,710.9) scale(0.769,1)" text-anchor="end">80</text><text stroke="#000" stroke-width="1.0" transform="translate(122.5,710.9) scale(0.67,1)" text-anchor="end">%</text><text stroke="#000" stroke-width="1.0" font-size="37" transform="translate(101,863.1) scale(0.769,1)" text-anchor="end">60</text><text stroke="#000" stroke-width="1.0" transform="translate(122.5,863.1) scale(0.67,1)" text-anchor="end">%</text><text stroke="#000" stroke-width="1.0" font-size="37" transform="translate(101,1015.3) scale(0.769,1)" text-anchor="end">40</text><text stroke="#000" stroke-width="1.0" transform="translate(122.5,1015.3) scale(0.67,1)" text-anchor="end">%</text><text stroke="#000" stroke-width="1.0" font-size="37" transform="translate(101,1167.6) scale(0.769,1)" text-anchor="end">20</text><text stroke="#000" stroke-width="1.0" transform="translate(122.5,1167.6) scale(0.67,1)" text-anchor="end">%</text><text stroke="#000" stroke-width="1.0" font-size="37" transform="translate(101,1319.8) scale(0.769,1)" text-anchor="end">0</text><text stroke="#000" stroke-width="1.0" transform="translate(122.5,1319.8) scale(0.67,1)" text-anchor="end">%</text><text stroke="#000" stroke-width="1.0" font-size="37" transform="translate(101,1472.0) scale(0.769,1)" text-anchor="end">20</text><text stroke="#000" stroke-width="1.0" transform="translate(68.6,1472.0) scale(0.9,1)" text-anchor="end">-</text><text stroke="#000" stroke-width="1.0" transform="translate(122.5,1472.0) scale(0.67,1)" text-anchor="end">%</text><text stroke="#000" stroke-width="1.0" font-size="37" transform="translate(101,1624.3) scale(0.769,1)" text-anchor="end">40</text><text stroke="#000" stroke-width="1.0" transform="translate(68.6,1624.3) scale(0.9,1)" text-anchor="end">-</text><text stroke="#000" stroke-width="1.0" transform="translate(122.5,1624.3) scale(0.67,1)" text-anchor="end">%</text><text stroke="#000" stroke-width="1.0" font-size="37" transform="translate(101,1776.5) scale(0.769,1)" text-anchor="end">60</text><text stroke="#000" stroke-width="1.0" transform="translate(68.6,1776.5) scale(0.9,1)" text-anchor="end">-</text><text stroke="#000" stroke-width="1.0" transform="translate(122.5,1776.5) scale(0.67,1)" text-anchor="end">%</text><text stroke="#000" stroke-width="1.0" transform="translate(455.2,26.7) scale(0.853,1)" text-anchor="middle">Inpatient</text><text stroke="#000" stroke-width="1.0" transform="translate(1085,26.7) scale(0.842,1)" text-anchor="middle">Outpatient</text><text stroke="#000" stroke-width="1.0" transform="translate(244.8,1837.8) scale(0.837,1)" text-anchor="middle">Geometric</text><text stroke="#000" stroke-width="1.0" transform="translate(244.8,1877.8) scale(0.82,1)" text-anchor="middle">Average</text><text stroke="#000" stroke-width="1.0" transform="translate(454.5,1837.8) scale(0.862,1)" text-anchor="middle">Arithmetic</text><text stroke="#000" stroke-width="1.0" transform="translate(454.5,1877.8) scale(0.82,1)" text-anchor="middle">Average</text><text stroke="#000" stroke-width="1.0" transform="translate(664.2,1837.8) scale(0.828,1)" text-anchor="middle">Regression</text><text stroke="#000" stroke-width="1.0" transform="translate(664.2,1877.8) scale(0.821,1)" text-anchor="middle">-Based</text><text stroke="#000" stroke-width="1.0" transform="translate(875.1,1837.8) scale(0.837,1)" text-anchor="middle">Geometric</text><text stroke="#000" stroke-width="1.0" transform="translate(875.1,1877.8) scale(0.82,1)" text-anchor="middle">Average</text><text stroke="#000" stroke-width="1.0" transform="translate(1084.8,1837.8) scale(0.862,1)" text-anchor="middle">Arithmetic</text><text stroke="#000" stroke-width="1.0" transform="translate(1084.8,1877.8) scale(0.82,1)" text-anchor="middle">Average</text><text stroke="#000" stroke-width="1.0" transform="translate(1294.5,1837.8) scale(0.828,1)" text-anchor="middle">Regression</text><text stroke="#000" stroke-width="1.0" transform="translate(1294.5,1877.8) scale(0.821,1)" text-anchor="middle">-Based</text><text stroke="#000" stroke-width="1.0" transform="translate(28.3,914.3) rotate(-90) scale(0.828,1)" text-anchor="middle">Percent Above Median</text></g>
</g>
</svg></body></html>
